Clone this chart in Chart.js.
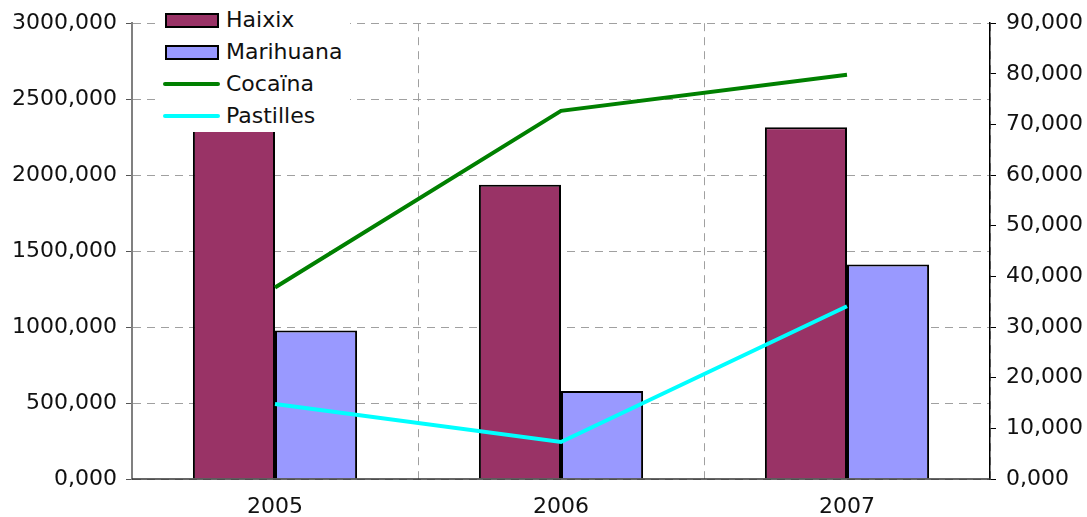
<!DOCTYPE html>
<html>
<head>
<meta charset="utf-8">
<script src="https://cdn.jsdelivr.net/npm/chart.js@4/dist/chart.umd.min.js"></script>
<style>
    body { margin: 0; background: #fff; }
    #wrap { position: relative; width: 1087px; height: 517px; }
    #legend {
        position: absolute; left: 155px; top: 0; width: 195px; height: 132px;
        background: #fff; font-family: "DejaVu Sans", Verdana, sans-serif; font-size: 22px; color: #111;
    }
    .item { position: absolute; left: 0; height: 32px; width: 195px; }
    .item .sw { position: absolute; left: 10px; }
    .item span { position: absolute; left: 71px; line-height: 32px; top: -16px; }
</style>
</head>
<body>
<div id="wrap">
    <canvas id="drugChart" width="1087" height="517"></canvas>
    <div id="legend"></div>
</div>
<script>
const years = ['2005', '2006', '2007'];
// left axis series (bars)
const haixix = [2450, 1937, 2315];
const marihuana = [978, 580, 1412];
// right axis series (lines)
const cocaina = [37.8, 72.7, 79.8];
const pastilles = [14.8, 7.3, 34.1];

const fontFamily = '"DejaVu Sans", Verdana, sans-serif';
const fontSize = 22;

// 3000 -> "3000,000"
function fmt(v) {
    return Number(v).toFixed(3).replace('.', ',');
}

// solid base line under the bars (the grid dash would otherwise apply to it)
const baseLine = {
    id: 'baseLine',
    afterDraw(chart) {
        const { ctx, chartArea } = chart;
        ctx.save();
        ctx.strokeStyle = '#333';
        ctx.lineWidth = 1.5;
        ctx.setLineDash([]);
        ctx.beginPath();
        ctx.moveTo(chartArea.left, chartArea.bottom);
        ctx.lineTo(chartArea.right, chartArea.bottom);
        ctx.stroke();
        ctx.restore();
    }
};

const ctx = document.getElementById('drugChart');
const chart = new Chart(ctx, {
    type: 'bar',
    data: {
        labels: years,
        datasets: [
            {
                label: 'Haixix',
                data: haixix,
                backgroundColor: '#993366',
                borderColor: '#000',
                borderWidth: 2,
                yAxisID: 'y',
                order: 2
            },
            {
                label: 'Marihuana',
                data: marihuana,
                backgroundColor: '#9999FF',
                borderColor: '#000',
                borderWidth: 2,
                yAxisID: 'y',
                order: 2
            },
            {
                type: 'line',
                label: 'Cocaïna',
                data: cocaina,
                borderColor: '#008000',
                borderWidth: 4,
                pointRadius: 0,
                tension: 0,
                yAxisID: 'y1',
                order: 1
            },
            {
                type: 'line',
                label: 'Pastilles',
                data: pastilles,
                borderColor: '#00FFFF',
                borderWidth: 4,
                pointRadius: 0,
                tension: 0,
                yAxisID: 'y1',
                order: 1
            }
        ]
    },
    plugins: [baseLine],
    options: {
        responsive: false,
        animation: false,
        layout: { padding: { top: 22, right: 0, left: 0, bottom: 0 } },
        datasets: {
            bar: { categoryPercentage: 0.574, barPercentage: 1 }
        },
        plugins: {
            legend: { display: false },
            tooltip: { enabled: false }
        },
        scales: {
            x: {
                grid: {
                    color: '#a0a0a0',
                    drawTicks: false,
                    offset: true
                },
                border: { display: false, dash: [8, 6] },
                ticks: {
                    color: '#111',
                    font: { family: fontFamily, size: fontSize },
                    padding: 15
                },
                afterFit: s => { s.height = 38; }
            },
            y: {
                position: 'left',
                min: 0,
                max: 3000,
                ticks: {
                    stepSize: 500,
                    color: '#111',
                    font: { family: fontFamily, size: fontSize },
                    padding: 9,
                    callback: v => fmt(v)
                },
                grid: {
                    color: '#a0a0a0',
                    tickLength: 6,
                    tickColor: '#555',
                    tickBorderDash: []
                },
                border: { color: '#808080', width: 2, dash: [8, 6] },
                afterFit: s => { s.width = 132; }
            },
            y1: {
                position: 'right',
                min: 0,
                max: 90,
                ticks: {
                    stepSize: 10,
                    color: '#111',
                    font: { family: fontFamily, size: fontSize },
                    padding: 10,
                    callback: v => fmt(v)
                },
                grid: {
                    drawOnChartArea: false,
                    tickLength: 6,
                    tickColor: '#000'
                },
                border: { color: '#000', width: 1.5 },
                afterFit: s => { s.width = 97; }
            }
        }
    }
});

// legend box in the top-left corner of the plot, built from the datasets
const legendBox = document.getElementById('legend');
chart.data.datasets.forEach((ds, i) => {
    const row = document.createElement('div');
    row.className = 'item';
    row.style.top = (20 + i * 32) + 'px';
    const sw = document.createElement('div');
    sw.className = 'sw';
    if (ds.type === 'line') {
        sw.style.cssText = `left:8px;top:-2px;width:57px;height:4px;background:${ds.borderColor};border-radius:2px;`;
    } else {
        sw.style.cssText = `top:-7px;width:50px;height:11px;background:${ds.backgroundColor};border:2px solid #000;`;
    }
    const txt = document.createElement('span');
    txt.textContent = ds.label;
    row.appendChild(sw);
    row.appendChild(txt);
    legendBox.appendChild(row);
});
</script>
</body>
</html>
